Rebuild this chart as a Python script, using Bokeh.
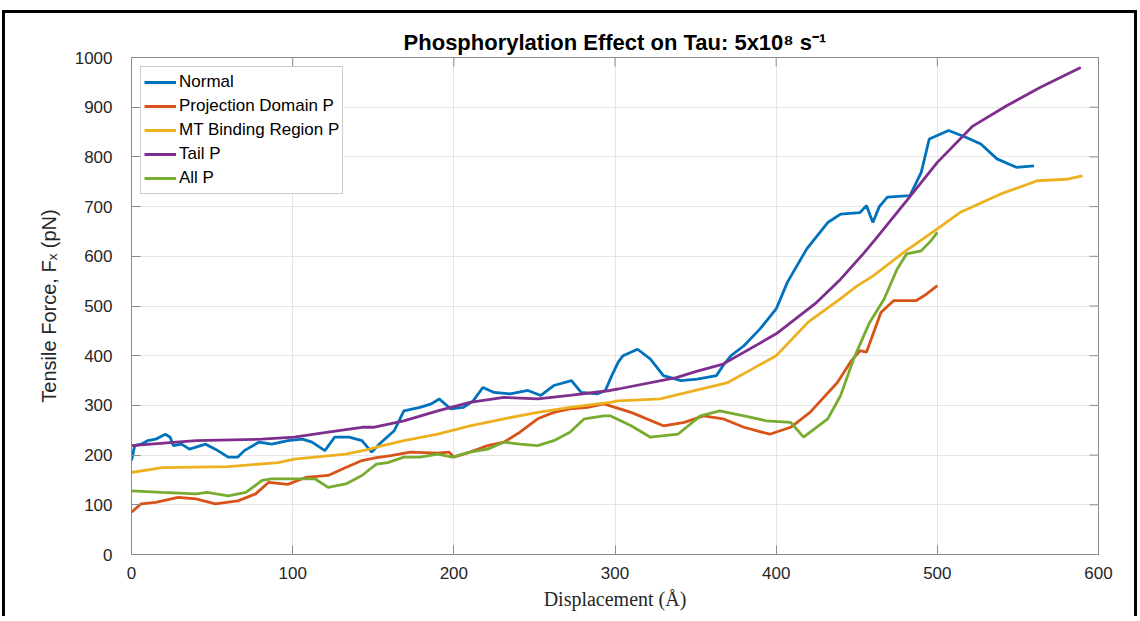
from bokeh.plotting import figure
from bokeh.models import Range1d, FixedTicker
from bokeh.embed import file_html
from bokeh.resources import INLINE
import math

# ---------------- data ----------------
x_ticks = [0, 100, 200, 300, 400, 500, 600]
y_ticks = [0, 100, 200, 300, 400, 500, 600, 700, 800, 900, 1000]

normal_x = [0, 2, 6, 10, 15, 21, 24, 26, 31, 36, 46, 52, 60, 66, 70, 79, 87, 97, 106, 112,
            120, 126, 135, 143, 149, 155, 163, 169, 179, 186, 191, 198, 206, 212, 218, 225,
            235, 246, 254, 262, 273, 279, 289, 294, 298, 302, 305, 314, 322, 330, 341, 351,
            363, 367, 372, 380, 390, 400, 407, 419, 432, 440, 452, 456, 460, 464, 469, 483,
            490, 495, 507, 518, 527, 537, 549, 560]
normal_y = [189, 219, 222, 229, 232, 242, 236, 219, 222, 212, 222, 212, 196, 196, 209, 226,
            222, 229, 232, 226, 209, 236, 236, 229, 206, 226, 249, 289, 296, 303, 313, 293,
            296, 309, 336, 326, 323, 330, 320, 340, 350, 326, 323, 330, 360, 387, 400, 413,
            393, 360, 350, 353, 360, 380, 400, 420, 454, 494, 548, 615, 668, 685, 688, 702,
            668, 700, 719, 722, 769, 836, 853, 839, 826, 796, 779, 782]

proj_x = [0, 6, 15, 29, 40, 52, 66, 77, 85, 97, 108, 122, 133, 143, 152, 161, 173, 190, 197,
          200, 210, 221, 231, 241, 252, 262, 272, 283, 293, 297, 310, 330, 343, 355, 367, 380,
          396, 409, 421, 438, 446, 452, 456, 465, 473, 487, 492, 500]
proj_y = [85, 102, 105, 115, 112, 102, 108, 122, 145, 141, 155, 159, 175, 189, 195, 199, 206,
          204, 206, 196, 206, 219, 226, 246, 273, 286, 293, 296, 303, 299, 286, 259, 266, 279,
          273, 256, 242, 256, 286, 346, 387, 410, 407, 487, 511, 511, 521, 541]

mt_x = [0, 19, 60, 91, 101, 133, 148, 152, 169, 190, 210, 231, 252, 272, 297, 302, 328, 370,
        385, 400, 420, 440, 450, 460, 480, 500, 514, 539, 562, 580, 590]
mt_y = [165, 175, 177, 185, 192, 202, 212, 216, 229, 242, 259, 273, 286, 296, 306, 309, 313,
        346, 373, 400, 468, 515, 540, 560, 610, 655, 688, 725, 752, 755, 762]

tail_x = [0, 40, 81, 101, 122, 143, 150, 169, 190, 210, 231, 252, 272, 297, 302, 338, 350,
          367, 400, 425, 440, 454, 461, 481, 500, 522, 543, 564, 589]
tail_y = [219, 229, 232, 236, 246, 256, 256, 269, 289, 306, 316, 313, 320, 330, 333, 356, 368,
          383, 444, 507, 554, 605, 632, 712, 789, 862, 903, 940, 980]

all_x = [0, 19, 40, 47, 60, 71, 81, 87, 102, 114, 122, 133, 143, 148, 152, 159, 169, 179, 190,
         199, 210, 221, 231, 241, 252, 262, 272, 281, 293, 297, 310, 322, 339, 353, 365, 380,
         394, 409, 417, 432, 440, 448, 458, 467, 475, 481, 490, 496, 500]
all_y = [128, 125, 122, 125, 118, 125, 149, 152, 152, 152, 135, 142, 159, 172, 182, 185, 196,
         196, 202, 196, 206, 212, 226, 222, 219, 229, 246, 273, 279, 279, 259, 236, 242, 279,
         289, 279, 269, 266, 236, 273, 320, 393, 467, 514, 574, 605, 611, 631, 648]

series = [
    ("Normal", normal_x, normal_y, "#0072BD"),
    ("Projection Domain P", proj_x, proj_y, "#D95319"),
    ("MT Binding Region P", mt_x, mt_y, "#EDB120"),
    ("Tail P", tail_x, tail_y, "#7E2F8E"),
    ("All P", all_x, all_y, "#77AC30"),
]

# ---------------- figure ----------------
FONT = "Liberation Sans"
AX = "#8c8c8c"
TXT = "#262626"

p = figure(frame_width=967, frame_height=497,
           min_border_left=126, min_border_right=36, min_border_top=44, min_border_bottom=62,
           x_range=Range1d(0, 600), y_range=Range1d(0, 1000),
           output_backend="svg", toolbar_location=None,
           title="Phosphorylation Effect on Tau: 5x10\u2078 s\u207b\u00b9")
p.styles = {"margin-top": "10px", "margin-left": "2px",
            "border-top": "3px solid black", "border-left": "3px solid black",
            "border-right": "3px solid black"}

p.title.align = "center"
p.title.text_font = FONT
p.title.text_font_size = "22px"
p.title.text_font_style = "bold"
p.title.text_color = "#000000"
p.title.standoff = 6

p.background_fill_color = "white"
p.border_fill_color = "white"
p.outline_line_color = AX
p.outline_line_width = 1

for ax in (p.xaxis[0], p.yaxis[0]):
    ax.axis_line_color = AX
    ax.major_tick_line_color = AX
    ax.major_tick_in = 9
    ax.major_tick_out = 0
    ax.minor_tick_line_color = None
    ax.major_label_text_font = FONT
    ax.major_label_text_font_size = "17px"
    ax.major_label_text_color = TXT
    ax.axis_label_text_color = TXT
    ax.axis_label_text_font_style = "normal"

p.xaxis.ticker = FixedTicker(ticks=x_ticks)
p.yaxis.ticker = FixedTicker(ticks=y_ticks)
p.xaxis.major_label_standoff = 12
p.yaxis.major_label_standoff = 19

p.xaxis.axis_label = "Displacement (\u212b)"
p.xaxis.axis_label_text_font = "Liberation Serif"
p.xaxis.axis_label_text_font_size = "20px"
p.xaxis.axis_label_standoff = 6

p.yaxis.axis_label = "Tensile Force, F\u2093 (pN)"
p.yaxis.axis_label_text_font = FONT
p.yaxis.axis_label_text_font_size = "20px"
p.yaxis.axis_label_standoff = 12

p.xgrid.ticker = FixedTicker(ticks=x_ticks)
p.ygrid.ticker = FixedTicker(ticks=y_ticks)
p.grid.grid_line_color = "#e6e6e6"
p.grid.grid_line_width = 1

# mirrored inward ticks on top and right (half of each dash is clipped by the frame)
p.scatter(x=x_ticks, y=[1000] * len(x_ticks), marker="dash", angle=math.pi / 2,
          size=18, line_color=AX, line_width=1)
p.scatter(x=[600] * len(y_ticks), y=y_ticks, marker="dash",
          size=18, line_color=AX, line_width=1)

for name, xs, ys, col in series:
    p.line(xs, ys, line_color=col, line_width=2.8, legend_label=name)

lg = p.legend[0]
lg.location = "top_left"
lg.margin = 9
lg.padding = 3
lg.spacing = 0
lg.label_height = 24
lg.glyph_height = 24
lg.glyph_width = 32
lg.label_standoff = 3
lg.label_text_font = FONT
lg.label_text_font_size = "17px"
lg.label_text_color = "#000000"
lg.border_line_color = "#9a9a9a"
lg.border_line_width = 1
lg.background_fill_color = "white"
lg.background_fill_alpha = 1.0

open("out.html", "w").write(file_html(p, INLINE))
